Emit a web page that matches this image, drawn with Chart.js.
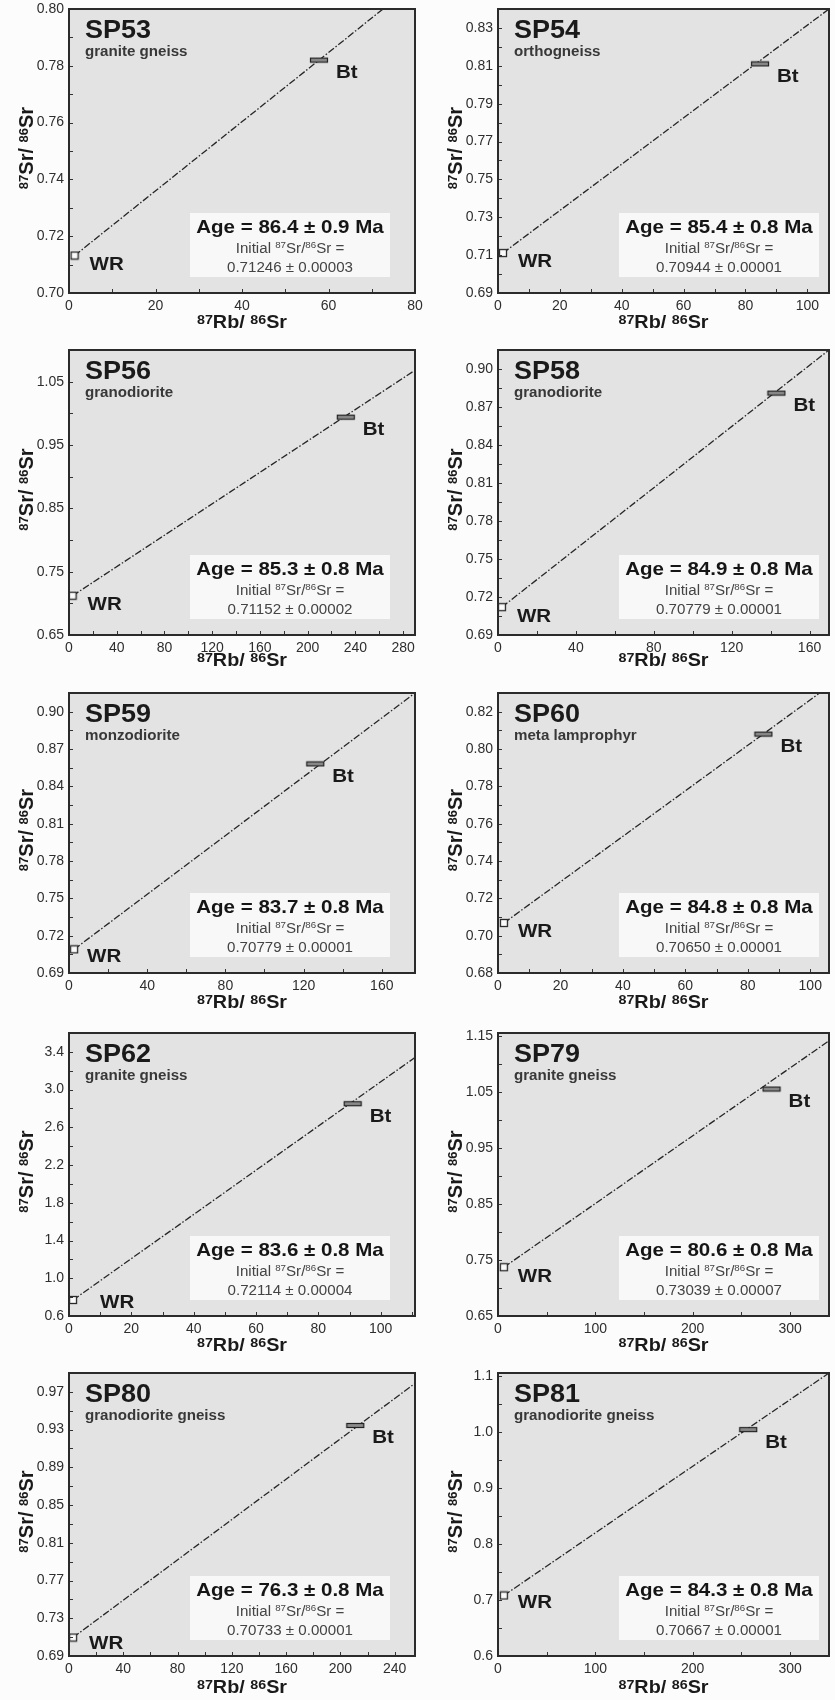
<!DOCTYPE html>
<html><head><meta charset="utf-8">
<script src="https://cdn.jsdelivr.net/npm/chart.js@4.4.1/dist/chart.umd.min.js"></script>
<style>
html,body{margin:0;padding:0;background:#fcfcfc;}
#wrap{position:relative;width:835px;height:1700px;overflow:hidden;background:#fcfcfc;}
canvas{position:absolute;}
</style></head><body><div id="wrap"></div>
<script>
// ---------------- DATA ----------------
const samples = ["SP53","SP54","SP56","SP58","SP59","SP60","SP62","SP79","SP80","SP81"];
const rockTypes = ["granite gneiss","orthogneiss","granodiorite","granodiorite","monzodiorite","meta lamprophyr","granite gneiss","granite gneiss","granodiorite gneiss","granodiorite gneiss"];
const ages = ["86.4 ± 0.9","85.4 ± 0.8","85.3 ± 0.8","84.9 ± 0.8","83.7 ± 0.8","84.8 ± 0.8","83.6 ± 0.8","80.6 ± 0.8","76.3 ± 0.8","84.3 ± 0.8"];
const initialSr = ["0.71246 ± 0.00003","0.70944 ± 0.00001","0.71152 ± 0.00002","0.70779 ± 0.00001","0.70779 ± 0.00001","0.70650 ± 0.00001","0.72114 ± 0.00004","0.73039 ± 0.00007","0.70733 ± 0.00001","0.70667 ± 0.00001"];

// whole-rock (WR) points: 87Rb/86Sr, 87Sr/86Sr
const wrRb = [1.3, 1.6, 3, 2, 2.6, 1.9, 1.3, 6, 3, 6];
const wrSr = [0.7132, 0.7111, 0.712, 0.712, 0.709, 0.7068, 0.77, 0.737, 0.7096, 0.708];
// biotite (Bt) points
const btRb = [57.8, 84.7, 232, 143, 126, 85, 91, 281, 211, 257];
const btSr = [0.782, 0.811, 0.994, 0.881, 0.858, 0.808, 2.85, 1.055, 0.9344, 1.004];
// isochron line end points (read where the line leaves the frame)
const lineEndRb = [72.6, 107, 290, 170, 177, 103, 111, 340, 255, 340];
const lineEndSr = [0.80, 0.84, 1.068, 0.915, 0.915, 0.83, 3.34, 1.141, 0.979, 1.105];

// axis ranges
const xMax = [80, 107, 290, 170, 177, 106, 111, 340, 255, 340];
const yMin = [0.70, 0.69, 0.65, 0.69, 0.69, 0.68, 0.6, 0.65, 0.69, 0.6];
const yMax = [0.80, 0.84, 1.10, 0.915, 0.915, 0.83, 3.6, 1.155, 0.99, 1.105];

// tick labels
const xTicks = [
  [0,20,40,60,80],
  [0,20,40,60,80,100],
  [0,40,80,120,160,200,240,280],
  [0,40,80,120,160],
  [0,40,80,120,160],
  [0,20,40,60,80,100],
  [0,20,40,60,80,100],
  [0,100,200,300],
  [0,40,80,120,160,200,240],
  [0,100,200,300]
];
const yTicks = [
  ["0.70","0.72","0.74","0.76","0.78","0.80"],
  ["0.69","0.71","0.73","0.75","0.77","0.79","0.81","0.83"],
  ["0.65","0.75","0.85","0.95","1.05"],
  ["0.69","0.72","0.75","0.78","0.81","0.84","0.87","0.90"],
  ["0.69","0.72","0.75","0.78","0.81","0.84","0.87","0.90"],
  ["0.68","0.70","0.72","0.74","0.76","0.78","0.80","0.82"],
  ["0.6","1.0","1.4","1.8","2.2","2.6","3.0","3.4"],
  ["0.65","0.75","0.85","0.95","1.05","1.15"],
  ["0.69","0.73","0.77","0.81","0.85","0.89","0.93","0.97"],
  ["0.6","0.7","0.8","0.9","1.0","1.1"]
];

// ---------------- LAYOUT / STYLE ----------------
const FONT = '"Liberation Sans", Arial, Helvetica, sans-serif';
const SX = 1.08;
const colX = [0, 417], colW = [445, 418];
const plotLeft = [69, 498], plotRight = [415, 833];
const rowTop = [0, 336, 676, 1016, 1356], rowH = [336, 340, 340, 340, 344];
const plotTop = [9, 350, 693, 1033, 1373], plotBottom = [293, 635, 973, 1316, 1656];
const xTitleOff = [35, 31, 35, 35, 37];
const wrLabelOff = [[15,14],[15,14],[15,14],[15,15],[13,13],[14,14],[27,8],[14,14.5],[16,11.5],[14,12.5]];
const btLabelOff = [17, 18];

function makeWR() {
  const c = document.createElement('canvas'); c.width = 10; c.height = 10;
  const g = c.getContext('2d');
  g.fillStyle = '#fbfbfb'; g.fillRect(1,1,8,8);
  g.strokeStyle = '#2a2a2a'; g.lineWidth = 1.3; g.strokeRect(1.5,1.5,7,7);
  return c;
}
function makeBt() {
  const c = document.createElement('canvas'); c.width = 20; c.height = 7;
  const g = c.getContext('2d');
  g.fillStyle = '#8c8c8c'; g.fillRect(1,1,18,5);
  g.strokeStyle = '#222'; g.lineWidth = 1.2; g.strokeRect(1.5,1.5,17,4);
  return c;
}
const wrImg = makeWR(), btImg = makeBt();

function richText(ctx, parts, x, y, mainFont, supFont, rise, align, sx) {
  let w = 0;
  parts.forEach(p => { ctx.font = p.sup ? supFont : mainFont; w += ctx.measureText(p.t).width; });
  w *= sx;
  let cx = align === 'center' ? x - w/2 : (align === 'right' ? x - w : x);
  parts.forEach(p => {
    ctx.font = p.sup ? supFont : mainFont;
    const pw = ctx.measureText(p.t).width;
    ctx.save();
    ctx.translate(cx, y - (p.sup ? rise : 0));
    ctx.scale(sx, 1);
    ctx.textAlign = 'left'; ctx.textBaseline = 'alphabetic';
    ctx.fillText(p.t, 0, 0);
    ctx.restore();
    cx += pw * sx;
  });
}
function sText(ctx, t, x, y, font, align) {
  richText(ctx, [{t}], x, y, font, font, 0, align, SX);
}

function makePanel(i) {
  const col = i % 2, row = Math.floor(i / 2);
  const cv = document.createElement('canvas');
  cv.width = colW[col]; cv.height = rowH[row];
  cv.style.left = colX[col] + 'px'; cv.style.top = rowTop[row] + 'px';
  document.getElementById('wrap').appendChild(cv);

  const padTop = plotTop[row] - rowTop[row];
  const xh = rowTop[row] + rowH[row] - plotBottom[row];
  const yw = plotLeft[col] - colX[col];
  const padRight = colX[col] + colW[col] - plotRight[col];
  const yVals = yTicks[i].map(parseFloat);

  const deco = {
    id: 'deco' + i,
    beforeDraw(chart) {
      const a = chart.chartArea, ctx = chart.ctx;
      ctx.save(); ctx.fillStyle = '#e3e3e3';
      ctx.fillRect(a.left, a.top, a.right - a.left, a.bottom - a.top);
      ctx.restore();
    },
    beforeDatasetsDraw(chart) {
      const a = chart.chartArea, ctx = chart.ctx;
      const cx = a.left + 221;
      ctx.save(); ctx.fillStyle = '#f8f8f8';
      ctx.fillRect(cx - 100, a.bottom - 80, 200, 64);
      ctx.restore();
    },
    afterDatasetsDraw(chart) {
      const a = chart.chartArea, ctx = chart.ctx;
      const xs = chart.scales.x, ys = chart.scales.y;
      ctx.save();
      // tick marks (inside)
      ctx.strokeStyle = '#333'; ctx.lineWidth = 1;
      const xt = xTicks[i];
      const xStep = xt[1] - xt[0];
      const xAll = [];
      xt.forEach(v => { xAll.push(v); if (v + xStep/2 < xMax[i]) xAll.push(v + xStep/2); });
      xAll.forEach(v => {
        const px = Math.round(xs.getPixelForValue(v)) + 0.5;
        ctx.beginPath(); ctx.moveTo(px, a.bottom); ctx.lineTo(px, a.bottom - 4); ctx.stroke();
      });
      const yStep = yVals[1] - yVals[0];
      const yAll = [];
      yVals.forEach(v => { yAll.push(v); if (v + yStep/2 < yMax[i] - 1e-9) yAll.push(v + yStep/2); });
      yAll.forEach(v => {
        const py = Math.round(ys.getPixelForValue(v)) + 0.5;
        ctx.beginPath(); ctx.moveTo(a.left, py); ctx.lineTo(a.left + 4, py); ctx.stroke();
      });
      // frame
      ctx.strokeStyle = '#2b2b2b'; ctx.lineWidth = 2;
      ctx.strokeRect(a.left, a.top, a.right - a.left, a.bottom - a.top);

      // sample name & rock type
      ctx.fillStyle = '#1a1a1a';
      sText(ctx, samples[i], a.left + 16, a.top + 29, 'bold 25px ' + FONT, 'left');
      ctx.fillStyle = '#383838';
      sText(ctx, rockTypes[i], a.left + 16, a.top + 47, 'bold 14px ' + FONT, 'left');

      // point labels
      ctx.fillStyle = '#1a1a1a';
      const bx = xs.getPixelForValue(btRb[i]), by = ys.getPixelForValue(btSr[i]);
      sText(ctx, 'Bt', bx + btLabelOff[0], by + btLabelOff[1], 'bold 19px ' + FONT, 'left');
      const wx = xs.getPixelForValue(wrRb[i]), wy = ys.getPixelForValue(wrSr[i]);
      sText(ctx, 'WR', wx + wrLabelOff[i][0], wy + wrLabelOff[i][1], 'bold 19px ' + FONT, 'left');

      // age box text
      const cx = a.left + 221;
      ctx.fillStyle = '#151515';
      sText(ctx, 'Age = ' + ages[i] + ' Ma', cx, a.bottom - 60, 'bold 19px ' + FONT, 'center');
      ctx.fillStyle = '#444';
      richText(ctx, [{t:'Initial '},{t:'87',sup:1},{t:'Sr/'},{t:'86',sup:1},{t:'Sr ='}],
        cx, a.bottom - 40, '14px ' + FONT, '9px ' + FONT, 5, 'center', SX);
      sText(ctx, initialSr[i], cx, a.bottom - 21, '14px ' + FONT, 'center');

      // axis titles
      ctx.fillStyle = '#1a1a1a';
      richText(ctx, [{t:'87',sup:1},{t:'Rb/ '},{t:'86',sup:1},{t:'Sr'}],
        (a.left + a.right)/2, a.bottom + xTitleOff[row], 'bold 18px ' + FONT, 'bold 13px ' + FONT, 4, 'center', 1.1);
      ctx.save();
      ctx.translate(a.left - 36, (a.top + a.bottom)/2 - 3);
      ctx.rotate(-Math.PI/2);
      richText(ctx, [{t:'87',sup:1},{t:'Sr/ '},{t:'86',sup:1},{t:'Sr'}],
        0, 0, 'bold 20px ' + FONT, 'bold 13px ' + FONT, 5, 'center', 1.0);
      ctx.restore();
      ctx.restore();
    }
  };

  new Chart(cv, {
    type: 'scatter',
    data: {
      datasets: [
        { label: 'WR', data: [{x: wrRb[i], y: wrSr[i]}], pointStyle: wrImg, pointRadius: 5, order: 0, clip: false },
        { label: 'Bt', data: [{x: btRb[i], y: btSr[i]}], pointStyle: btImg, pointRadius: 5, order: 1, clip: false },
        { label: 'isochron', data: [{x: wrRb[i], y: wrSr[i]}, {x: lineEndRb[i], y: lineEndSr[i]}],
          showLine: true, pointRadius: 0, borderColor: '#262626', borderWidth: 1.3,
          borderDash: [7, 2, 1.5, 2], order: 2 }
      ]
    },
    options: {
      responsive: false, animation: false, devicePixelRatio: 1,
      layout: { padding: { left: 0, top: padTop, right: padRight, bottom: 0 } },
      plugins: { legend: { display: false }, tooltip: { enabled: false } },
      scales: {
        x: {
          type: 'linear', position: 'bottom', min: 0, max: xMax[i],
          afterBuildTicks: s => { s.ticks = xTicks[i].map(v => ({ value: v })); },
          afterFit: s => { s.height = xh; s.paddingLeft = 0; s.paddingRight = 0; s.paddingTop = 0; s.paddingBottom = 0; },
          grid: { display: false, drawTicks: false }, border: { display: false },
          ticks: { autoSkip: false, maxRotation: 0, minRotation: 0, padding: 5,
            font: { family: FONT, size: 14 }, color: '#2e2e2e', callback: v => String(v) }
        },
        y: {
          type: 'linear', position: 'left', min: yMin[i], max: yMax[i],
          afterBuildTicks: s => { s.ticks = yVals.map(v => ({ value: v })); },
          afterFit: s => { s.width = yw; s.paddingTop = 0; s.paddingBottom = 0; s.paddingLeft = 0; s.paddingRight = 0; },
          grid: { display: false, drawTicks: false }, border: { display: false },
          ticks: { autoSkip: false, padding: 5, font: { family: FONT, size: 14 }, color: '#2e2e2e',
            callback: (v, idx) => yTicks[i][idx] }
        }
      }
    },
    plugins: [deco]
  });
}

for (let i = 0; i < samples.length; i++) makePanel(i);
</script>
</body></html>
